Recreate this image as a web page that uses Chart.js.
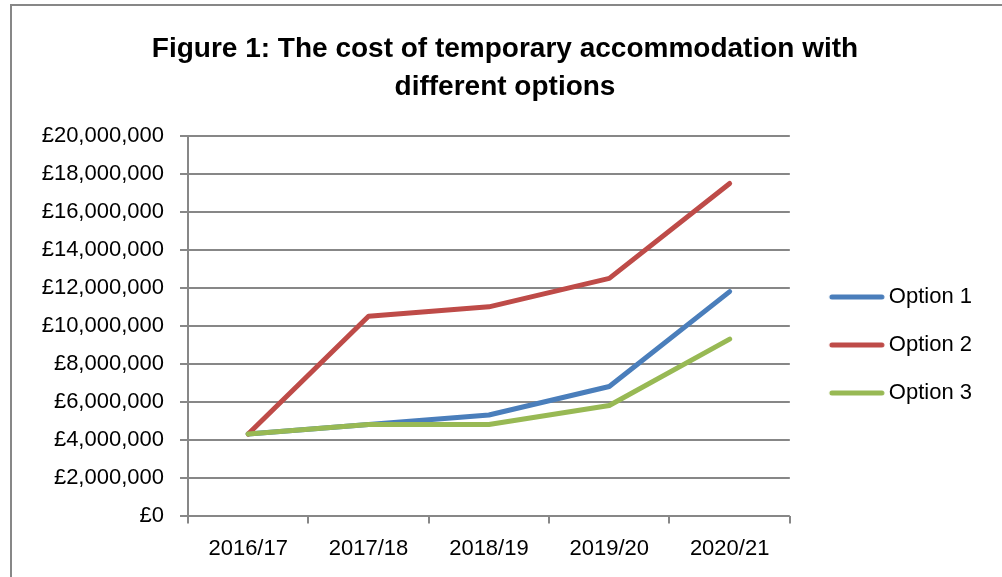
<!DOCTYPE html>
<html>
<head>
<meta charset="utf-8">
<script src="https://cdn.jsdelivr.net/npm/chart.js@4/dist/chart.umd.min.js"></script>
<style>
  html, body { margin: 0; padding: 0; background: #fff; }
  #wrap { position: relative; width: 1002px; height: 577px; overflow: hidden; }
  #frame { position: absolute; left: 10px; top: 4px; width: 1100px; height: 700px;
           border-left: 2px solid #878787; border-top: 2px solid #878787; }
  canvas { position: absolute; left: 0; top: 0; }
</style>
</head>
<body>
<div id="wrap">
  <div id="frame"></div>
  <canvas id="costChart" width="1002" height="577"></canvas>
</div>
<script>
// values, in pounds
const years = ['2016/17', '2017/18', '2018/19', '2019/20', '2020/21'];
const option1 = [4300000, 4800000, 5300000, 6800000, 11800000];
const option2 = [4300000, 10500000, 11000000, 12500000, 17500000];
const option3 = [4300000, 4800000, 4800000, 5800000, 9300000];

const titleLines = ['Figure 1: The cost of temporary accommodation with', 'different options'];
const seriesColors = ['#4A7EBB', '#BE4B48', '#98B954'];
const axisColor = '#878787';
const fontFamily = '"Liberation Sans", Arial, sans-serif';

// little line glyph for the legend, sitting a bit right of the box centre like Excel's
function legendGlyph(color) {
  const c = document.createElement('canvas');
  c.width = 100;
  c.height = 8;
  const g = c.getContext('2d');
  g.strokeStyle = color;
  g.lineWidth = 5;
  g.lineCap = 'round';
  g.beginPath();
  g.moveTo(35, 4);
  g.lineTo(85, 4);
  g.stroke();
  return c;
}
const glyphs = seriesColors.map(legendGlyph);

function lineSet(label, data, color, order) {
  return {
    label,
    data,
    order,
    borderColor: color,
    backgroundColor: color,
    borderWidth: 5,
    borderCapStyle: 'round',
    borderJoinStyle: 'round',
    tension: 0,
    pointRadius: 0,
    pointHoverRadius: 0,
    fill: false,
  };
}

const money = new Intl.NumberFormat('en-GB');

new Chart(document.getElementById('costChart').getContext('2d'), {
  type: 'line',
  data: {
    labels: years,
    datasets: [
      lineSet('Option 1', option1, seriesColors[0], 2),
      lineSet('Option 2', option2, seriesColors[1], 1),
      lineSet('Option 3', option3, seriesColors[2], 0),
    ],
  },
  options: {
    responsive: false,
    devicePixelRatio: 1,
    animation: false,
    events: [],
    layout: { padding: { left: 28, right: 20, top: 30, bottom: 3 } },
    plugins: {
      tooltip: { enabled: false },
      title: {
        display: true,
        text: titleLines,
        color: '#000',
        font: { family: fontFamily, size: 28, weight: 'bold', lineHeight: 1.357 },
        padding: { top: 0, bottom: 30 },
      },
      legend: {
        position: 'right',
        // empty title only pushes the entries down to where Excel puts them
        title: { display: true, text: '', font: { size: 10, lineHeight: 1 }, padding: { top: 76, bottom: 0 } },
        labels: {
          color: '#000',
          font: { family: fontFamily, size: 22 },
          usePointStyle: true,
          pointStyleWidth: 62,
          padding: 26,
          sort: (a, b) => a.datasetIndex - b.datasetIndex,
          generateLabels: (chart) => Chart.defaults.plugins.legend.labels.generateLabels(chart)
            .map((item) => Object.assign(item, { pointStyle: glyphs[item.datasetIndex] })),
        },
      },
    },
    scales: {
      x: {
        offset: true,
        grid: {
          display: true,
          offset: true,
          drawOnChartArea: false,
          drawTicks: true,
          tickLength: 8,
          color: axisColor,
          lineWidth: 2,
        },
        border: { display: false },
        ticks: {
          color: '#000',
          font: { family: fontFamily, size: 22 },
          padding: 12,
          maxRotation: 0,
        },
      },
      y: {
        min: 0,
        max: 20000000,
        afterFit: (scale) => { scale.width = 160; },
        grid: {
          color: axisColor,
          lineWidth: 2,
          drawTicks: true,
          tickLength: 8,
        },
        border: { display: true, color: axisColor, width: 2 },
        ticks: {
          stepSize: 2000000,
          color: '#000',
          font: { family: fontFamily, size: 22 },
          padding: 16,
          callback: (v) => '£' + money.format(v),
        },
      },
    },
  },
});
</script>
</body>
</html>
